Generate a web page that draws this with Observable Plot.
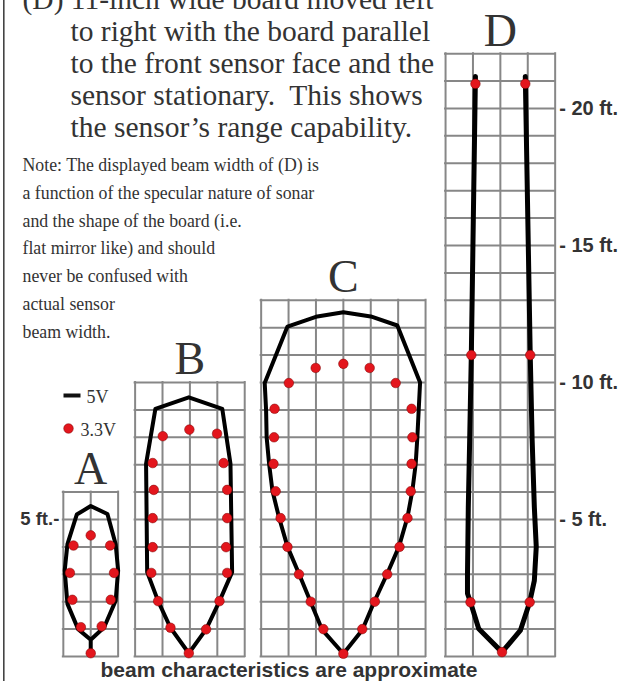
<!DOCTYPE html>
<html><head><meta charset="utf-8">
<script src="https://cdn.jsdelivr.net/npm/d3@7"></script>
<script src="https://cdn.jsdelivr.net/npm/@observablehq/plot@0.6"></script>
<style>html,body{margin:0;padding:0;background:#fff;} svg{display:block}</style>
</head><body><div id="chart"></div>
<script>
// ---------- DATA ----------
const panelNames = ["A", "B", "C", "D"];
const panelCols = [2, 4, 6, 4];      // grid width in ft (1 cell = 1 ft)
const panelRows = [6, 10, 13, 22];   // grid height in ft
const rightTicks = [20, 15, 10, 5];  // ft labels right of D
const leftTicks = [5];               // ft label left of A

// 5V beam outline: [lateral ft from sensor axis, distance ft]
const beamA5V = [[0,0.12],[0,0.61],[-0.46,1.0],[-0.85,1.92],[-0.95,3.14],[-0.85,4.1],[-0.51,5.18],[0,5.49],[0.61,5.2],[0.91,4.1],[1.0,3.14],[0.91,2.04],[0.49,1.07],[0,0.61]];
const beamB5V = [[-0.04,0.12],[-0.71,1.05],[-1.16,2.02],[-1.56,3.08],[-1.6,7.03],[-1.26,9.04],[-0.04,9.46],[1.18,9.04],[1.48,7.03],[1.54,3.08],[1.08,2.02],[0.59,0.99],[-0.04,0.12]];
const beamC5V = [[0,0.1],[-0.77,0.97],[-1.19,1.98],[-1.62,3.02],[-2.04,4.01],[-2.35,5.08],[-2.59,6.06],[-2.71,7.03],[-2.8,8.0],[-2.82,9.0],[-2.87,9.98],[-2.04,12.04],[-0.95,12.41],[0,12.56],[1.0,12.41],[1.97,12.08],[2.8,10.0],[2.75,9.0],[2.7,8.0],[2.64,7.03],[2.52,6.06],[2.34,5.08],[2.03,4.01],[1.6,3.02],[1.12,1.98],[0.69,0.97],[0,0.1]];
const beamD5V = [[-0.91,21.17],[-1.06,11.0],[-1.12,7.9],[-1.17,5.45],[-1.2,3.0],[-1.2,2.3],[-1.09,1.98],[-0.79,1.01],[0.06,0.16],[0.73,0.95],[1.07,1.98],[1.24,2.77],[1.31,4.0],[1.24,5.45],[1.16,7.9],[1.09,11.0],[0.91,21.17]];

// 3.3V measured points
const beamA33V = [[0,0.12],[-0.36,1.07],[0.4,1.1],[-0.67,2.07],[0.73,2.07],[-0.76,3.05],[0.85,3.05],[-0.63,4.05],[0.71,4.05],[0,4.42]];
const beamB33V = [[-0.04,0.12],[-0.71,1.05],[0.59,0.99],[-1.16,2.02],[1.08,2.02],[-1.41,3.05],[1.36,3.05],[-1.36,3.99],[1.32,3.99],[-1.36,5.05],[1.36,5.05],[-1.32,6.08],[1.36,6.08],[-1.36,7.06],[1.23,7.06],[-0.99,8.04],[0.99,8.13],[-0.02,8.28]];
const beamC33V = [[0,0.1],[-0.73,1.0],[0.69,1.0],[-1.19,2.0],[1.15,2.0],[-1.62,3.0],[1.6,3.0],[-2.04,4.0],[2.05,4.0],[-2.29,5.05],[2.34,5.05],[-2.47,6.03],[2.46,6.03],[-2.55,7.03],[2.49,7.03],[-2.53,8.0],[2.52,8.0],[-2.51,9.04],[2.49,9.04],[-1.99,9.98],[1.91,9.98],[-1.01,10.53],[0.96,10.53],[0,10.68]];
const beamD33V = [[-0.91,20.9],[0.91,20.9],[-1.06,11.0],[1.09,11.0],[-1.09,1.98],[1.07,1.98],[0.06,0.16]];

const headLine1 = "(D) 11-inch wide board moved left";
const headLines = ["to right with the board parallel", "to the front sensor face and the", "sensor stationary.\u00a0 This shows", "the sensor\u2019s range capability."];
const noteLines = ["Note: The displayed beam width of (D) is", "a function of the specular nature of sonar", "and the shape of the board (i.e.", "flat mirror like) and should", "never be confused with", "actual sensor", "beam width."];
const legendLabels = ["5V", "3.3V"];
const caption = "beam characteristics are approximate";

// ---------- LAYOUT ----------
const panelLeft = [0.03, 2.65, 7.25, 13.98]; // left edge of each grid (ft, shared scale)
const xDomain = [-2.263, 20.839];
const yDomain = [-0.912, 23.94];
const W = 633, H = 681;
const serif = "'Liberation Serif', 'Times New Roman', Times, serif";
const sans = "'Liberation Sans', Arial, Helvetica, sans-serif";
const textColor = "#333";
const red = "#e3161d";

// ---------- BUILD ----------
const beams5 = [beamA5V, beamB5V, beamC5V, beamD5V];
const beams33 = [beamA33V, beamB33V, beamC33V, beamD33V];
const panels = panelNames.map((name, i) => ({name, left: panelLeft[i], cols: panelCols[i], rows: panelRows[i], center: panelLeft[i] + panelCols[i] / 2}));

const gridV = [], gridH = [];
panels.forEach(p => {
  for (let i = 0; i <= p.cols; i++) gridV.push({x: p.left + i, y1: 0, y2: p.rows});
  for (let j = 0; j <= p.rows; j++) gridH.push({y: j, x1: p.left, x2: p.left + p.cols});
});
const line5 = [], dots33 = [];
panels.forEach((p, i) => {
  beams5[i].forEach(([dx, y]) => line5.push({panel: p.name, x: p.center + dx, y}));
  beams33[i].forEach(([dx, y]) => dots33.push({panel: p.name, x: p.center + dx, y}));
});
const pD = panels[3], pA = panels[0];

const dash = {draw(ctx) { ctx.moveTo(-8.5, -2); ctx.lineTo(8.5, -2); ctx.lineTo(8.5, 2); ctx.lineTo(-8.5, 2); ctx.closePath(); }};

const chart = Plot.plot({
  width: W, height: H,
  margin: 0,
  x: {domain: xDomain, axis: null},
  y: {domain: yDomain, axis: null},
  style: {background: "#fff"},
  marks: [
    Plot.ruleX([xDomain[0]], {dx: 3.3, stroke: "#444", strokeWidth: 1.6}),
    Plot.ruleX(gridV, {x: "x", y1: "y1", y2: "y2", stroke: "#878787", strokeWidth: 2, strokeLinecap: "square"}),
    Plot.ruleY(gridH, {y: "y", x1: "x1", x2: "x2", stroke: "#878787", strokeWidth: 2, strokeLinecap: "square"}),
    Plot.line(line5.filter(d => d.panel !== "D"), {x: "x", y: "y", z: "panel", stroke: "#000", strokeWidth: 4, strokeLinejoin: "round", curve: "linear"}),
    Plot.line(line5.filter(d => d.panel === "D"), {x: "x", y: "y", z: "panel", stroke: "#000", strokeWidth: 5, strokeLinejoin: "round", curve: "linear"}),
    Plot.dot(dots33, {x: "x", y: "y", r: 4.8, fill: red, stroke: "#7a0000", strokeWidth: 0.5}),
    Plot.text(panels, {x: "center", y: "rows", text: "name", lineAnchor: "bottom", dy: -8, fontSize: 46, fontFamily: serif, fill: textColor}),
    Plot.text(rightTicks, {x: () => pD.left + pD.cols, y: d => d, text: d => `- ${d} ft.`, textAnchor: "start", dx: 4, fontSize: 20, fontWeight: "bold", fontFamily: sans, fill: textColor}),
    Plot.text(leftTicks, {x: () => pA.left, y: d => d, text: d => `${d} ft.-`, textAnchor: "end", dx: -4, fontSize: 18.5, fontWeight: "bold", fontFamily: sans, fill: textColor}),
    Plot.text([headLine1], {frameAnchor: "top-left", dx: 22, dy: 8, text: d => d, textAnchor: "start", lineAnchor: "bottom", fontSize: 29.5, fontFamily: serif, fill: textColor}),
    Plot.text([headLines.join("\n")], {frameAnchor: "top-left", dx: 70, dy: 136, text: d => d, textAnchor: "start", lineAnchor: "bottom", lineHeight: 32 / 29.5, fontSize: 29.5, fontFamily: serif, fill: textColor}),
    Plot.text([noteLines.join("\n")], {frameAnchor: "top-left", dx: 22, dy: 337, text: d => d, textAnchor: "start", lineAnchor: "bottom", lineHeight: 27.7 / 17.8, fontSize: 17.8, fontFamily: serif, fill: textColor}),
    Plot.dot([legendLabels[0]], {frameAnchor: "top-left", dx: 71.5, dy: 395, symbol: dash, fill: "#111", stroke: "none"}),
    Plot.text([legendLabels[0]], {frameAnchor: "top-left", dx: 86, dy: 402, text: d => d, textAnchor: "start", lineAnchor: "bottom", fontSize: 18, fontFamily: serif, fill: textColor}),
    Plot.dot([legendLabels[1]], {frameAnchor: "top-left", dx: 68, dy: 428, r: 4.8, fill: red, stroke: "#7a0000", strokeWidth: 0.5}),
    Plot.text([legendLabels[1]], {frameAnchor: "top-left", dx: 80, dy: 435, text: d => d, textAnchor: "start", lineAnchor: "bottom", fontSize: 18, fontFamily: serif, fill: textColor}),
    Plot.text([caption], {frameAnchor: "top-left", dx: 100, dy: 676.5, text: d => d, textAnchor: "start", lineAnchor: "bottom", fontSize: 21, fontWeight: "bold", fontFamily: sans, fill: textColor})
  ]
});
document.getElementById("chart").appendChild(chart);
</script>
</body></html>
